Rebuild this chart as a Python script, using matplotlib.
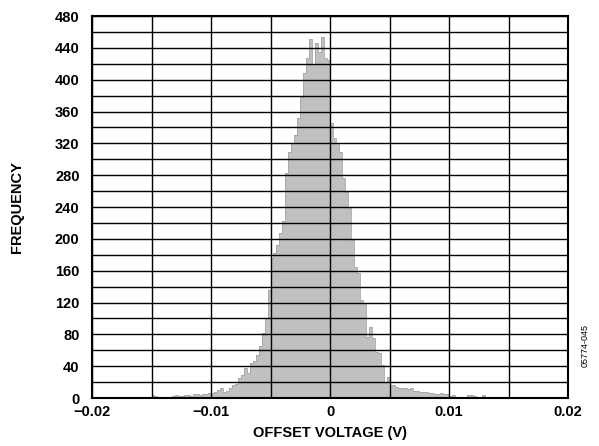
import numpy as np
import matplotlib.pyplot as plt

plt.rcParams['font.family'] = ['Liberation Sans', 'DejaVu Sans']

# histogram of offset voltage, bins of 0.25 mV starting at -15 mV
bin_start = -0.015
bin_width = 0.00025
counts = [
    4, 3, 1, 0, 0, 1, 0, 2, 4, 3,
    2, 4, 4, 3, 5, 5, 4, 5, 5, 6,
    6, 7, 10, 12, 8, 9, 13, 16, 17, 25,
    29, 38, 31, 44, 46, 54, 65, 82, 100, 136,
    176, 182, 192, 207, 222, 283, 309, 320, 330, 352,
    378, 408, 427, 451, 420, 446, 435, 453, 427, 425,
    345, 327, 320, 309, 276, 259, 239, 198, 165, 157,
    123, 120, 77, 89, 75, 58, 57, 41, 20, 27,
    16, 16, 14, 13, 12, 13, 11, 13, 9, 9,
    8, 8, 7, 6, 6, 5, 5, 6, 5, 5,
    2, 4, 1, 0, 1, 0, 4, 4, 3, 0,
    0, 4, 0,
]
edges = bin_start + bin_width * np.arange(len(counts) + 1)

x_ticks = [-0.02, -0.01, 0, 0.01, 0.02]
x_labels = ['\u22120.02', '\u22120.01', '0', '0.01', '0.02']
y_ticks = list(range(0, 481, 40))

fig = plt.figure(figsize=(5.99, 4.46), dpi=100)
ax = fig.add_axes([0.1536, 0.1076, 0.7947, 0.8565])

ax.stairs(counts, edges, fill=True, color='#c0c0c0', zorder=1)
ax.stairs(counts, edges, fill=False, color='#a5a5a5', linewidth=0.6, zorder=1.5)

ax.set_xlim(-0.02, 0.02)
ax.set_ylim(0, 480)
ax.set_xticks(x_ticks)
ax.set_xticklabels(x_labels)
ax.set_xticks(np.arange(-0.02, 0.0201, 0.005), minor=True)
ax.set_yticks(y_ticks)
ax.set_yticks(range(0, 481, 20), minor=True)
ax.grid(True, which='both', color='black', linewidth=1.0, zorder=2)
ax.set_axisbelow(False)
ax.tick_params(which='both', length=0, labelsize=10.5)
for lab in ax.get_xticklabels() + ax.get_yticklabels():
    lab.set_fontweight('bold')
ax.tick_params(axis='y', pad=9)
ax.tick_params(axis='x', pad=5)
for s in ax.spines.values():
    s.set_linewidth(1.5)

ax.set_xlabel('OFFSET VOLTAGE (V)', fontsize=10.5, fontweight='bold', labelpad=5)
ax.set_ylabel('FREQUENCY', fontsize=10.5, fontweight='bold', labelpad=22)

fig.text(0.977, 0.226, '05774-045', rotation=90, fontsize=6.5, ha='center', va='center')

fig.savefig('out.png', dpi=100)
